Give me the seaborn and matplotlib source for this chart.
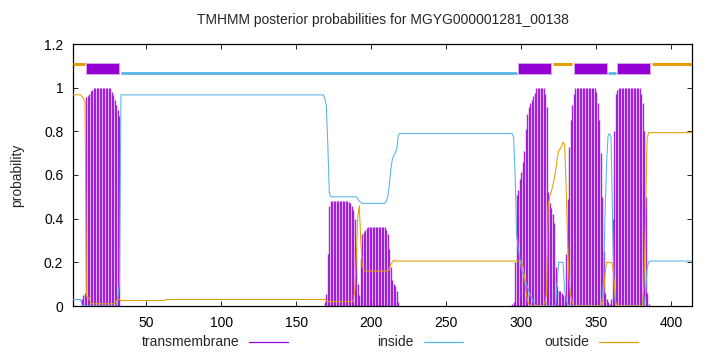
import numpy as np
import pandas as pd
import matplotlib
matplotlib.use("Agg")
import matplotlib.pyplot as plt
import seaborn as sns
from matplotlib.lines import Line2D
from matplotlib.patches import Rectangle

# ---------------- data ----------------
SEQ_LEN = 414
positions = list(range(1, SEQ_LEN + 1))

inside = ([0.03] * 6 + [0.005] + [0.0] * 22 + [0.01, 0.04, 0.10] + [0.967] * 136
          + [0.95, 0.92, 0.74, 0.52] + [0.50] * 18 + [0.49, 0.48, 0.475] + [0.47] * 16
          + [0.48, 0.50, 0.55, 0.62, 0.67, 0.69, 0.70, 0.72, 0.78] + [0.79] * 76
          + [0.77, 0.60, 0.32, 0.27, 0.22, 0.18, 0.15, 0.13, 0.11, 0.09, 0.07, 0.05, 0.04, 0.02, 0.01]
          + [0.0] * 14 + [0.10, 0.20, 0.20, 0.20, 0.20, 0.07, 0.03, 0.01] + [0.0] * 22
          + [0.02, 0.12, 0.43, 0.65, 0.78, 0.79, 0.77, 0.40, 0.08, 0.01] + [0.0] * 19
          + [0.05, 0.17, 0.20] + [0.206] * 29)

outside = ([0.967] * 6 + [0.96, 0.95, 0.935] + [0.045, 0.04, 0.03, 0.015] + [0.01] * 15
           + [0.015, 0.025, 0.03, 0.03] + [0.025] * 30 + [0.03] * 106 + [0.03, 0.025, 0.02, 0.02]
           + [0.02] * 16 + [0.07, 0.22, 0.41, 0.46, 0.30, 0.18, 0.165] + [0.16] * 16
           + [0.17, 0.19, 0.20, 0.21] + [0.206] * 85 + [0.19, 0.15, 0.08, 0.03, 0.01] + [0.0] * 10
           + [0.02, 0.06, 0.45, 0.50, 0.52, 0.55, 0.58, 0.62, 0.67, 0.71, 0.72, 0.73, 0.75, 0.74,
              0.55, 0.30, 0.12, 0.05, 0.02]
           + [0.0] * 20 + [0.05, 0.15, 0.20, 0.20, 0.20, 0.20, 0.19, 0.12, 0.02] + [0.0] * 18
           + [0.12, 0.40, 0.76] + [0.794] * 30)

transmembrane = ([0.0] * 6 + [0.03, 0.05, 0.06] + [0.955, 0.96, 0.97, 0.985, 0.99] + [1.0] * 12
                 + [0.98, 0.965, 0.945, 0.92, 0.90, 0.87] + [0.0] * 136 + [0.02, 0.055, 0.24, 0.46]
                 + [0.48] * 12
                 + [0.475, 0.47, 0.46, 0.44, 0.40, 0.27, 0.10, 0.05, 0.22, 0.33, 0.34, 0.35, 0.355]
                 + [0.36] * 12 + [0.35, 0.33, 0.26, 0.18, 0.12, 0.10, 0.09, 0.07, 0.02] + [0.0] * 75
                 + [0.01, 0.02, 0.20, 0.51, 0.53, 0.58, 0.615, 0.66, 0.71, 0.81, 0.88, 0.91, 0.93,
                    0.945, 0.96, 0.975]
                 + [1.0] * 6
                 + [0.97, 0.91, 0.52, 0.47, 0.45, 0.42, 0.38, 0.18, 0.09, 0.07, 0.07, 0.06, 0.05,
                    0.05, 0.24, 0.49, 0.73, 0.85, 0.92]
                 + [0.97] + [1.0] * 13
                 + [1.0, 0.98, 0.93, 0.85, 0.70, 0.50, 0.25, 0.06, 0.03, 0.02, 0.01, 0.03, 0.40,
                    0.80, 0.97, 0.99]
                 + [1.0] * 15 + [0.97, 0.93, 0.80, 0.50, 0.06, 0.01] + [0.0] * 29)

# predicted topology drawn above the curves
seg_labels = ["outside", "TM", "inside", "TM", "outside", "TM", "inside", "TM", "outside"]
seg_start = [1, 10, 33, 298, 321, 335, 358, 364, 387]
seg_end = [9, 32, 297, 320, 334, 357, 363, 386, 414]

title = "TMHMM posterior probabilities for MGYG000001281_00138"
x_ticks = [50, 100, 150, 200, 250, 300, 350, 400]
y_ticks = [0, 0.2, 0.4, 0.6, 0.8, 1, 1.2]
y_tick_labels = ["0", "0.2", "0.4", "0.6", "0.8", "1", "1.2"]

# ---------------- styling ----------------
C_TM = "#9400D3"
C_IN = "#56B4E9"
C_OUT = "#E69F00"

sns.set_style("ticks")
plt.rcParams["font.family"] = ["Liberation Sans", "DejaVu Sans"]
plt.rcParams["font.size"] = 10

df = pd.DataFrame({"pos": positions, "inside": inside, "outside": outside,
                   "tm": transmembrane})

fig = plt.figure(figsize=(7.2, 3.52), dpi=100)
ax = fig.add_axes([73 / 720, 1 - 306 / 352, (692 - 73) / 720, (306 - 44) / 352])

# transmembrane impulses
ax.vlines(df["pos"], 0, df["tm"], color=C_TM, linewidth=1.0, alpha=0.85, zorder=2)
# inside / outside curves
sns.lineplot(data=df, x="pos", y="inside", ax=ax, color=C_IN, linewidth=0.75, zorder=3)
sns.lineplot(data=df, x="pos", y="outside", ax=ax, color=C_OUT, linewidth=0.75, zorder=3)

# topology bar at the top
for lab, s, e in zip(seg_labels, seg_start, seg_end):
    if lab == "TM":
        ax.add_patch(Rectangle((s, 1.064), e - s, 1.111 - 1.064, facecolor=C_TM,
                               edgecolor="#d9a6ef", linewidth=0.7, zorder=4))
    elif lab == "inside":
        ax.hlines(1.068, s, e, color=C_IN, linewidth=2.0, zorder=4)
    else:
        ax.hlines(1.108, s, e, color=C_OUT, linewidth=2.2, zorder=4)

ax.set_xlim(1, SEQ_LEN)
ax.set_ylim(0, 1.2)
ax.set_xticks(x_ticks)
ax.set_yticks(y_ticks)
ax.set_yticklabels(y_tick_labels)
ax.set_xlabel("")
ax.set_ylabel("probability", labelpad=14)
ax.tick_params(direction="in", length=3.5, width=0.6, top=True, right=True,
               labelsize=10, pad=7, colors="black")
for sp in ax.spines.values():
    sp.set_linewidth(0.9)
    sp.set_color("black")
    sp.set_visible(True)

fig.text((73 + 692) / 2 / 720, 1 - 20 / 352, title, ha="center", va="center", fontsize=10)

# key at the bottom (gnuplot style: label then sample line)
key_items = [("transmembrane", C_TM, 239), ("inside", C_IN, 414), ("outside", C_OUT, 589)]
ky = 1 - 342 / 352
for lab, col, xr in key_items:
    fig.text(xr / 720, ky, lab, ha="right", va="center", fontsize=10)
    fig.add_artist(Line2D([(xr + 10) / 720, (xr + 49) / 720], [ky, ky], color=col,
                          linewidth=0.9, transform=fig.transFigure))

fig.savefig("out.png", dpi=100)
